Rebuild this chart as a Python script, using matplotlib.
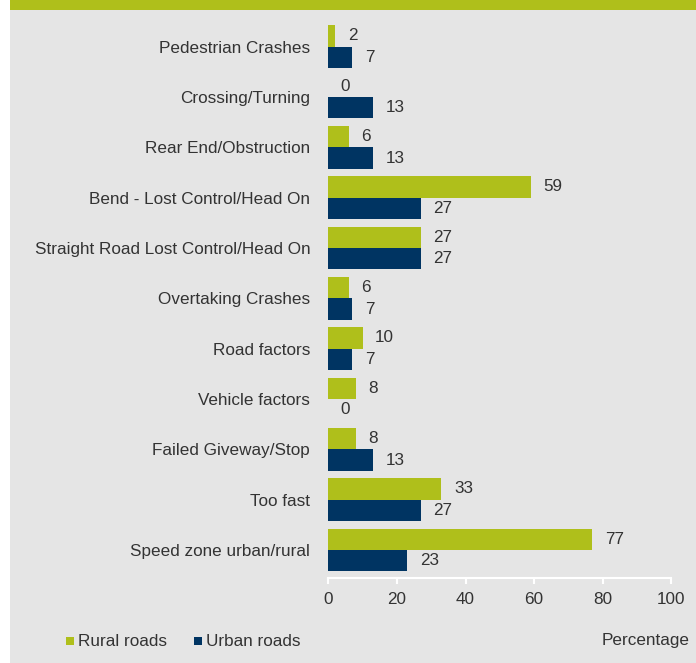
import matplotlib
matplotlib.use("Agg")
import matplotlib.pyplot as plt
from matplotlib.patches import Rectangle
import numpy as np

plt.rcParams['font.family'] = ['Liberation Sans', 'DejaVu Sans']

categories = ["Pedestrian Crashes", "Crossing/Turning", "Rear End/Obstruction",
              "Bend - Lost Control/Head On", "Straight Road Lost Control/Head On",
              "Overtaking Crashes", "Road factors", "Vehicle factors",
              "Failed Giveway/Stop", "Too fast", "Speed zone urban/rural"]
rural = [2, 0, 6, 59, 27, 6, 10, 8, 8, 33, 77]
urban = [7, 13, 13, 27, 27, 7, 7, 0, 13, 27, 23]
xticks = [0, 20, 40, 60, 80, 100]

GREEN = '#afbf1b'
NAVY = '#003462'
BG = '#e5e5e5'
TXT = '#333333'
FS = 12.3

W, H = 696, 663
fig = plt.figure(figsize=(W/100, H/100), dpi=100)
fig.patch.set_facecolor('white')
# gray background panel and top green band
fig.add_artist(Rectangle((10/W, 0), 1 - 10/W, 1 - 10/H, transform=fig.transFigure,
                         facecolor=BG, edgecolor='none', zorder=-5))
fig.add_artist(Rectangle((10/W, 1 - 10/H), 1 - 10/W, 10/H, transform=fig.transFigure,
                         facecolor=GREEN, edgecolor='none', zorder=-5))

left = 328.3 / W
right = 671.3 / W
top = 21.5 / H
bottom = 577.7 / H
ax = fig.add_axes([left, 1 - bottom, right - left, bottom - top])
ax.set_zorder(2)
ax.patch.set_alpha(0)

y = np.arange(len(categories))
h = 0.425
ax.barh(y - h/2, rural, height=h, color=GREEN, label='Rural roads')
ax.barh(y + h/2, urban, height=h, color=NAVY, label='Urban roads')

for i, (r, u) in enumerate(zip(rural, urban)):
    ax.annotate(str(r), (r, i - h/2), xytext=(9, 0), textcoords='offset points',
                va='center', ha='left', fontsize=FS, color=TXT)
    ax.annotate(str(u), (u, i + h/2), xytext=(9, 0), textcoords='offset points',
                va='center', ha='left', fontsize=FS, color=TXT)

ax.set_xlim(0, 100)
ax.set_ylim(len(categories) - 0.45, -0.5)
ax.set_yticks(y)
ax.set_yticklabels(categories, fontsize=FS, color=TXT)
ax.tick_params(axis='y', length=0, pad=13)
ax.set_xticks(xticks)
ax.set_xticklabels([str(t) for t in xticks], fontsize=FS, color=TXT)
ax.tick_params(axis='x', colors='white', labelcolor=TXT, length=4, width=1.5, pad=6)
for s in ['top', 'right', 'left']:
    ax.spines[s].set_visible(False)
ax.spines['bottom'].set_color('white')
ax.spines['bottom'].set_linewidth(1.5)

# legend
def legend_item(x, color, label):
    fig.add_artist(Rectangle((x/W, 1 - 645/H), 8/W, 8/H, transform=fig.transFigure,
                             facecolor=color, edgecolor='none'))
    fig.text((x + 12)/W, 1 - 642/H, label, fontsize=FS, color=TXT, va='center', ha='left')

legend_item(66, GREEN, 'Rural roads')
legend_item(194, NAVY, 'Urban roads')
fig.text(690/W, 1 - 641/H, 'Percentage', fontsize=FS, color=TXT, va='center', ha='right')

fig.savefig('out.png', dpi=100, facecolor=fig.get_facecolor())
